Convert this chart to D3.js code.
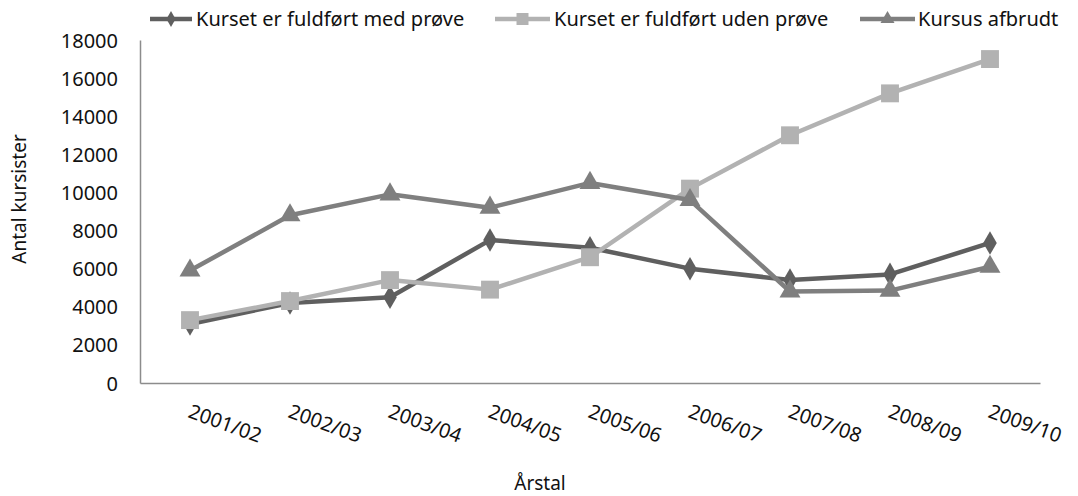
<!DOCTYPE html>
<html><head><meta charset="utf-8">
<script src="https://cdn.jsdelivr.net/npm/d3@7"></script>
<style>body{margin:0;background:#fff}svg{display:block}text{font-family:"Noto Sans",sans-serif}</style>
</head><body><svg id="c" width="1078" height="496"></svg>
<script>
const categories=["2001/02","2002/03","2003/04","2004/05","2005/06","2006/07","2007/08","2008/09","2009/10"];
const medProeve=[3100,4200,4500,7500,7100,6000,5400,5700,7350];
const udenProeve=[3300,4300,5400,4900,6600,10200,13000,15200,17000];
const afbrudt=[5900,8800,9900,9200,10500,9600,4800,4850,6100];
const yTicks=[0,2000,4000,6000,8000,10000,12000,14000,16000,18000];
const seriesNames=["Kurset er fuldført med prøve","Kurset er fuldført uden prøve","Kursus afbrudt"];

const series=[
 {name:seriesNames[0],values:medProeve,color:"#5f5f5f",sym:d3.symbolDiamond,size:160},
 {name:seriesNames[1],values:udenProeve,color:"#b2b2b2",sym:d3.symbolSquare,size:320},
 {name:seriesNames[2],values:afbrudt,color:"#7f7f7f",sym:d3.symbolTriangle,size:190}
];
const svg=d3.select("#c");
const L=140,R=1040,T=40,B=383;
const x=d3.scaleBand().domain(categories).range([L,R]);
const y=d3.scaleLinear().domain([0,18000]).range([B,T]);

// axes
const ya=svg.append("g").attr("transform",`translate(${L},0)`).call(d3.axisLeft(y).tickValues(yTicks).tickSize(0).tickPadding(22).tickFormat(d3.format("d")));
ya.select(".domain").attr("stroke","#8c8c8c").attr("stroke-width",1.5);
ya.selectAll("text").attr("font-size",20).attr("fill","#111").attr("font-family","Noto Sans").attr("dy","0.35em");
const xa=svg.append("g").attr("transform",`translate(0,${B})`).call(d3.axisBottom(x).tickSize(0).tickFormat(d=>d));
xa.select(".domain").attr("stroke","#8c8c8c").attr("stroke-width",1.5);
xa.selectAll("text").attr("font-size",20).attr("fill","#111").attr("font-family","Noto Sans")
  .attr("text-anchor","start").attr("dy",0).attr("y",0)
  .attr("transform","translate(-3,34) rotate(20)");

svg.append("text").attr("transform","translate(26,199) rotate(-90)").attr("text-anchor","middle").attr("font-size",19).attr("fill","#111").text("Antal kursister");
svg.append("text").attr("x",540).attr("y",490).attr("text-anchor","middle").attr("font-size",19).attr("fill","#111").text("Årstal");

const line=d3.line().x((d,i)=>x(categories[i])+x.bandwidth()/2).y(d=>y(d));
series.forEach(s=>{
  svg.append("path").attr("d",line(s.values)).attr("fill","none").attr("stroke",s.color).attr("stroke-width",4.5).attr("stroke-linejoin","round");
  svg.selectAll(null).data(s.values).enter().append("path")
    .attr("d",d3.symbol().type(s.sym).size(s.size))
    .attr("transform",(d,i)=>`translate(${x(categories[i])+x.bandwidth()/2},${y(d)})`)
    .attr("fill",s.color);
});

// legend
const leg=[{x0:150,x1:192,tx:196},{x0:495,x1:550,tx:554},{x0:860,x1:915,tx:918}];
series.forEach((s,i)=>{
  const g=svg.append("g");
  g.append("line").attr("x1",leg[i].x0).attr("x2",leg[i].x1).attr("y1",19).attr("y2",19).attr("stroke",s.color).attr("stroke-width",4.5);
  g.append("path").attr("d",d3.symbol().type(s.sym).size(s.size*0.45)).attr("transform",`translate(${(leg[i].x0+leg[i].x1)/2},19)`).attr("fill",s.color);
  g.append("text").attr("x",leg[i].tx).attr("y",26).attr("font-size",20).attr("fill","#111").text(s.name);
});
</script></body></html>
